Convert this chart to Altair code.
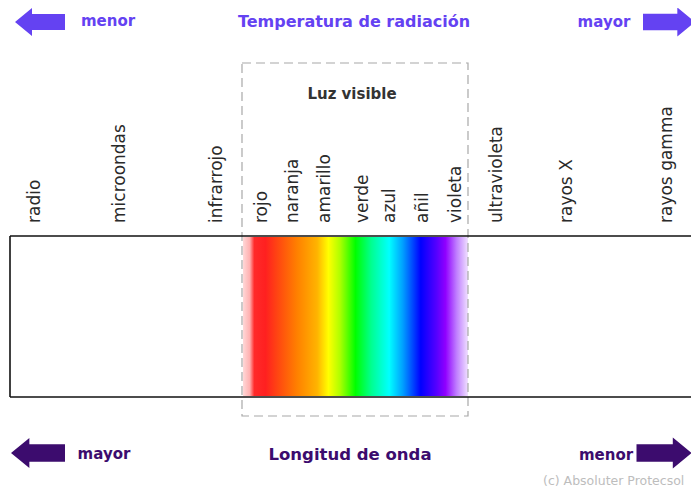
import altair as alt
import pandas as pd

# ---------------- data ----------------
# coordinate frame of the diagram (page pixels)
X_DOM = [8, 691]
Y_DOM = [8, 487]
W = X_DOM[1] - X_DOM[0]
H = Y_DOM[1] - Y_DOM[0]

TOP_PURPLE = "#6442f2"
BOTTOM_PURPLE = "#3c0c6e"
LABEL_GREY = "#2a2a2a"

# spectrum band labels (rotated), position along the band
band_labels = ["radio", "microondas", "infrarrojo", "rojo", "naranja", "amarillo",
               "verde", "azul", "añil", "violeta", "ultravioleta", "rayos X", "rayos gamma"]
band_pos = [35, 120, 217, 262, 293, 325, 363, 390, 423, 456, 497, 567, 667]
band_base = [223] * len(band_labels)

# headings
head_text = ["menor", "Temperatura de radiación", "mayor", "Luz visible",
             "mayor", "Longitud de onda", "menor"]
head_x = [108, 354, 604, 352, 104, 350, 606]
head_y = [21, 22, 22, 94, 454, 455, 455]
head_size = [15, 16, 15, 15, 15, 16.5, 15]
head_color = [TOP_PURPLE, TOP_PURPLE, TOP_PURPLE, "#333333",
              BOTTOM_PURPLE, BOTTOM_PURPLE, BOTTOM_PURPLE]

# arrows
arrow_dir = ["left", "right", "left", "right"]
arrow_x = [40, 669, 38, 664]
arrow_y = [22, 22, 453, 453]
arrow_w = [50, 52, 54, 55]
arrow_color = [TOP_PURPLE, TOP_PURPLE, BOTTOM_PURPLE, BOTTOM_PURPLE]

# band frame (top, bottom, left edges)
frame_x = [10, 10, 10]
frame_x2 = [699, 699, 10]
frame_y = [236, 397, 236]
frame_y2 = [236, 397, 397]

# visible light region
vis_x, vis_x2 = 243, 468
vis_y, vis_y2 = 237, 396
box_x, box_x2, box_y, box_y2 = 242, 468, 63, 416

# gradient colour stops (offset along visible band, colour)
stop_offset = [0.0, 0.03, 0.05, 0.10, 0.16, 0.24, 0.33, 0.38, 0.43, 0.50,
               0.57, 0.65, 0.71, 0.79, 0.86, 0.90, 0.95, 1.0]
stop_color = ["#ffd8d8", "#ffb0b0", "#ff2a2a", "#ff2020", "#ff4a10", "#ff8000",
              "#ffb400", "#ffff00", "#b0ff00", "#00ff00", "#00ff90", "#00ffff",
              "#00a0ff", "#0000ff", "#5500ff", "#9000ff", "#c080ff", "#f0e0ff"]

copyright_text = ["(c) Absoluter Protecsol"]
copyright_x = [543]
copyright_y = [481]

# ---------------- scales ----------------
xs = alt.Scale(domain=X_DOM, nice=False, zero=False)
ys = alt.Scale(domain=Y_DOM, nice=False, zero=False, reverse=True)


def X(f):
    return alt.X(f, type="quantitative", scale=xs, axis=None)


def Y(f):
    return alt.Y(f, type="quantitative", scale=ys, axis=None)


FONT = "DejaVu Sans"

# gradient rect
grad_df = pd.DataFrame({"x": [vis_x], "x2": [vis_x2], "y": [vis_y], "y2": [vis_y2]})
gradient = alt.Gradient(
    gradient="linear",
    stops=[alt.GradientStop(offset=o, color=c) for o, c in zip(stop_offset, stop_color)],
    x1=0, x2=1, y1=0, y2=0,
)
grad = alt.Chart(grad_df).mark_rect(color=gradient).encode(
    x=X("x"), x2="x2", y=Y("y"), y2="y2")

# dashed box
box_df = pd.DataFrame({"x": [box_x], "x2": [box_x2], "y": [box_y], "y2": [box_y2]})
box = alt.Chart(box_df).mark_rect(filled=False, stroke="#a8a8a8", strokeWidth=1.2,
                                  strokeDash=[9, 5]).encode(
    x=X("x"), x2="x2", y=Y("y"), y2="y2")

# frame
frame_df = pd.DataFrame({"x": frame_x, "x2": frame_x2, "y": frame_y, "y2": frame_y2})
frame = alt.Chart(frame_df).mark_rule(color="#111111", strokeWidth=1.6).encode(
    x=X("x"), x2="x2", y=Y("y"), y2="y2")

# rotated band labels
band_df = pd.DataFrame({"t": band_labels, "x": band_pos, "y": band_base})
bands = alt.Chart(band_df).mark_text(angle=270, align="left", baseline="middle",
                                     font=FONT, fontSize=17, color=LABEL_GREY).encode(
    x=X("x"), y=Y("y"), text="t:N")

# headings
head_df = pd.DataFrame({"t": head_text, "x": head_x, "y": head_y,
                        "s": head_size, "c": head_color})
heads = alt.Chart(head_df).mark_text(align="center", baseline="middle", font=FONT,
                                     fontWeight="bold").encode(
    x=X("x"), y=Y("y"), text="t:N",
    size=alt.Size("s:Q", scale=None, legend=None),
    color=alt.Color("c:N", scale=None, legend=None))

# arrows
LEFT_PATH = "M-1,0 L-0.32,-0.56 L-0.32,-0.32 L1,-0.32 L1,0.32 L-0.32,0.32 L-0.32,0.56 Z"
RIGHT_PATH = "M1,0 L0.32,-0.56 L0.32,-0.32 L-1,-0.32 L-1,0.32 L0.32,0.32 L0.32,0.56 Z"
arrow_df = pd.DataFrame({"d": arrow_dir, "x": arrow_x, "y": arrow_y,
                         "s": [w * w for w in arrow_w], "c": arrow_color})
arrows = alt.Chart(arrow_df).mark_point(filled=True, opacity=1, strokeWidth=0).encode(
    x=X("x"), y=Y("y"),
    shape=alt.Shape("d:N", scale=alt.Scale(domain=["left", "right"],
                                           range=[LEFT_PATH, RIGHT_PATH]), legend=None),
    size=alt.Size("s:Q", scale=None, legend=None),
    color=alt.Color("c:N", scale=None, legend=None))

# copyright
cp_df = pd.DataFrame({"t": copyright_text, "x": copyright_x, "y": copyright_y})
cp = alt.Chart(cp_df).mark_text(align="left", baseline="middle", font=FONT,
                                fontSize=12.5, color="#bdbdbd").encode(
    x=X("x"), y=Y("y"), text="t:N")

chart = alt.layer(grad, box, frame, bands, heads, arrows, cp).properties(
    width=W, height=H,
    padding=0,
    autosize=alt.AutoSizeParams(type="none"),
    background="white",
).configure_view(stroke=None)

chart.save("out.html", embed_options={"renderer": "svg", "actions": False})
